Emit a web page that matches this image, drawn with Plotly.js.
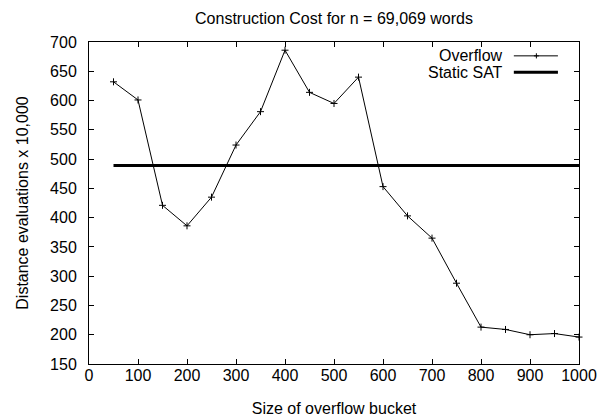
<!DOCTYPE html>
<html>
<head>
<meta charset="utf-8">
<script src="https://cdn.plot.ly/plotly-3.0.1.min.js"></script>
<style>
  html, body { margin: 0; padding: 0; background: #fff; }
  #chart { width: 610px; height: 420px; }
</style>
</head>
<body>
<div id="chart"></div>
<script>
// Bucket sizes and distance evaluations (in units of 10,000)
const bucketSizes = [50, 100, 150, 200, 250, 300, 350, 400, 450, 500,
                     550, 600, 650, 700, 750, 800, 850, 900, 950, 1000];
const overflowCost = [632, 601, 421, 386, 435, 524, 581, 686, 614, 595,
                      640, 453, 403, 365, 288, 213, 209, 200, 202, 196];
const staticSatX = [50, 1000];
const staticSatCost = [489, 489];

const legendNames = ['Overflow', 'Static SAT'];
const xTicks = [0, 100, 200, 300, 400, 500, 600, 700, 800, 900, 1000];
const yTicks = [150, 200, 250, 300, 350, 400, 450, 500, 550, 600, 650, 700];

const FONT = 'Liberation Sans, Arial, Helvetica, sans-serif';

const traces = [
  {
    x: bucketSizes, y: overflowCost, name: legendNames[0],
    type: 'scatter', mode: 'lines+markers',
    line: { color: '#000', width: 1 },
    marker: { symbol: 'cross-thin', size: 5, line: { color: '#000', width: 1 } },
    showlegend: false, cliponaxis: false
  },
  {
    x: staticSatX, y: staticSatCost, name: legendNames[1],
    type: 'scatter', mode: 'lines',
    line: { color: '#000', width: 3 },
    showlegend: false
  }
];

// Gnuplot-style key: right-aligned labels with the line samples to their right
const keyRows = [0.957, 0.906];
const keyX0 = 0.867, keyX1 = 0.957, keyMid = 0.913;
const annotations = legendNames.map((name, i) => ({
  xref: 'paper', yref: 'paper', x: 0.849, y: keyRows[i],
  xanchor: 'right', yanchor: 'middle', showarrow: false,
  text: name, font: { family: FONT, size: 16, color: '#000' }
}));
const shapes = [
  { type: 'line', xref: 'paper', yref: 'paper', x0: keyX0, x1: keyX1,
    y0: keyRows[0], y1: keyRows[0], line: { color: '#000', width: 1 } },
  { type: 'line', xref: 'paper', yref: 'paper', x0: keyMid, x1: keyMid,
    y0: keyRows[0] - 0.008, y1: keyRows[0] + 0.008, line: { color: '#000', width: 1 } },
  { type: 'line', xref: 'paper', yref: 'paper', x0: keyMid - 0.005, x1: keyMid + 0.005,
    y0: keyRows[0], y1: keyRows[0], line: { color: '#000', width: 1 } },
  { type: 'line', xref: 'paper', yref: 'paper', x0: keyX0, x1: keyX1,
    y0: keyRows[1], y1: keyRows[1], line: { color: '#000', width: 3 } }
];

const axisCommon = {
  showgrid: false, zeroline: false, showline: true, mirror: 'ticks',
  linecolor: '#000', linewidth: 1,
  ticks: 'inside', ticklen: 5, tickwidth: 1, tickcolor: '#000',
  tickfont: { family: FONT, size: 16, color: '#000' }
};

const layout = {
  width: 610, height: 420,
  margin: { l: 89, r: 31, t: 42, b: 56 },
  paper_bgcolor: '#fff', plot_bgcolor: '#fff',
  title: {
    text: 'Construction Cost for n = 69,069 words',
    font: { family: FONT, size: 16, color: '#000' },
    x: 0.5, xref: 'paper', xanchor: 'center', y: 0.957, yanchor: 'middle'
  },
  xaxis: Object.assign({}, axisCommon, {
    range: [0, 1000], tickvals: xTicks, ticktext: xTicks.map(String),
    ticklabelstandoff: -3,
    title: { text: 'Size of overflow bucket', font: { family: FONT, size: 16, color: '#000' }, standoff: 19 }
  }),
  yaxis: Object.assign({}, axisCommon, {
    range: [150, 700], tickvals: yTicks, ticktext: yTicks.map(String),
    ticklabelstandoff: 8,
    title: { text: 'Distance evaluations x 10,000', font: { family: FONT, size: 16, color: '#000' }, standoff: 17 }
  }),
  annotations: annotations,
  shapes: shapes,
  showlegend: false
};

Plotly.newPlot('chart', traces, layout, { displayModeBar: false, staticPlot: true });
</script>
</body>
</html>
